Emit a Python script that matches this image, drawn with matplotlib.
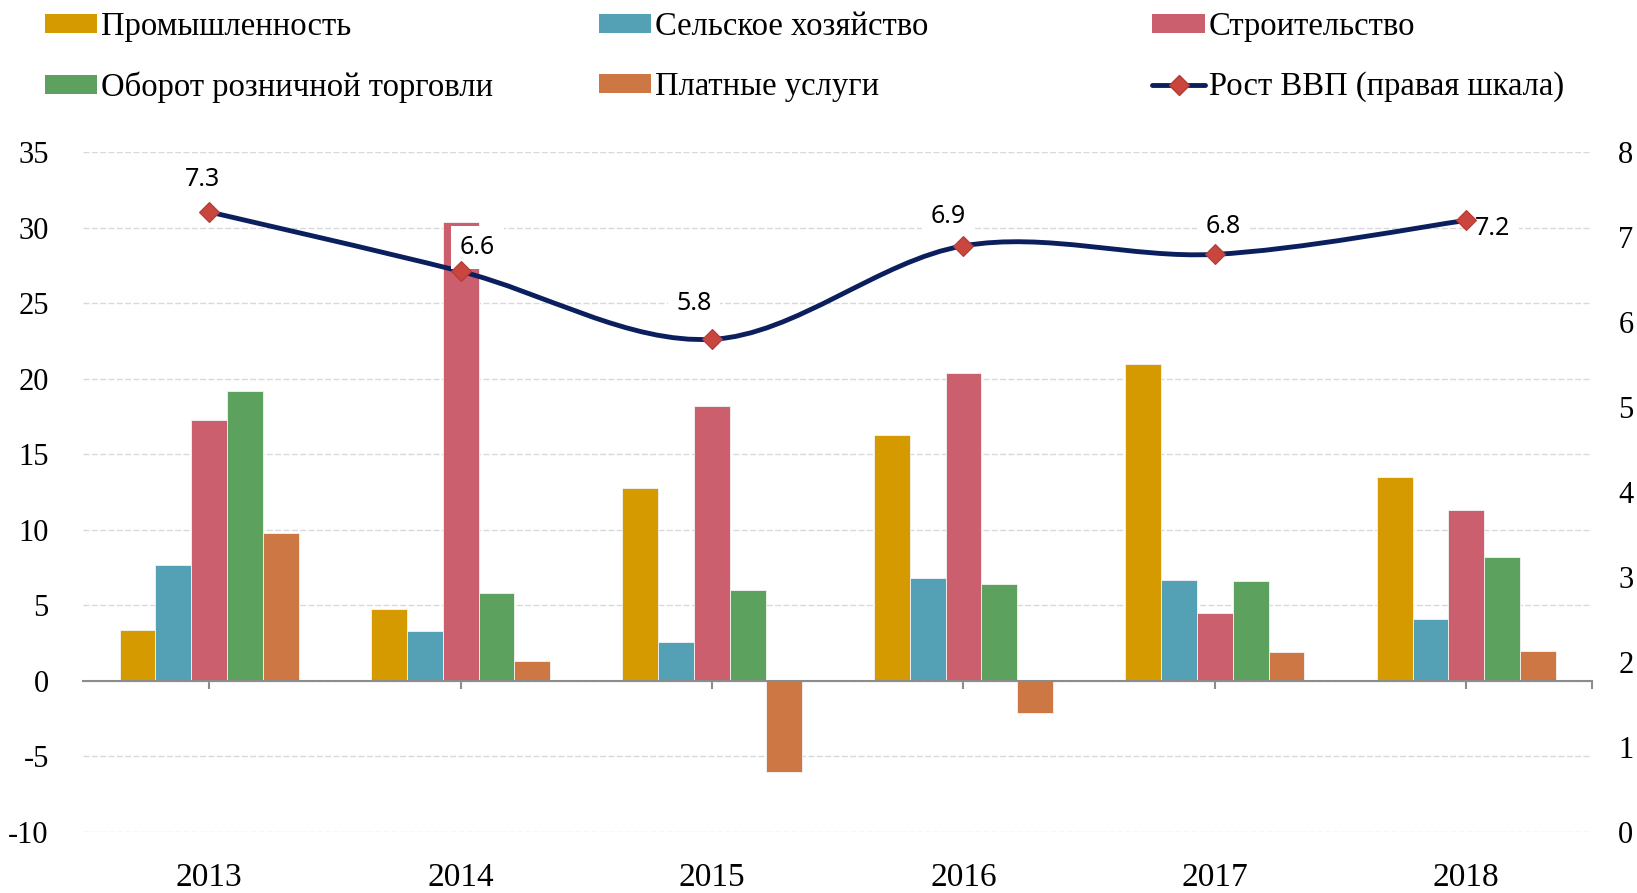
import numpy as np
import matplotlib
matplotlib.use("Agg")
import matplotlib.pyplot as plt
from matplotlib.path import Path
from matplotlib.patches import PathPatch, Patch
from matplotlib.lines import Line2D

years = ["2013", "2014", "2015", "2016", "2017", "2018"]
industry = [3.4, 4.8, 12.8, 16.3, 21.0, 13.5]
agriculture = [7.7, 3.3, 2.6, 6.8, 6.7, 4.1]
construction = [17.3, 30.4, 18.2, 20.4, 4.5, 11.3]
retail = [19.2, 5.8, 6.0, 6.4, 6.6, 8.2]
services = [9.8, 1.3, -6.0, -2.1, 1.9, 2.0]
gdp = [7.3, 6.6, 5.8, 6.9, 6.8, 7.2]

series_names = ["Промышленность", "Сельское хозяйство", "Строительство",
                "Оборот розничной торговли", "Платные услуги"]
gdp_name = "Рост ВВП (правая шкала)"
colors = ["#D49A00", "#54A0B5", "#CC5F6E", "#5DA15E", "#CC7744"]
line_color = "#0B1F5E"
marker_color = "#C9463F"

serif = ["Liberation Serif", "DejaVu Serif"]
sans = ["Noto Sans", "DejaVu Sans"]
plt.rcParams["axes.unicode_minus"] = False

fig = plt.figure(figsize=(16.37, 8.93), dpi=100)
ax = fig.add_axes([0.051, 0.0683, 0.9215, 0.761])
ax2 = ax.twinx()

x = np.arange(len(years))
w = 0.1425
for k, (vals, c) in enumerate(zip([industry, agriculture, construction, retail, services], colors)):
    ax.bar(x + (k - 2) * w, vals, width=w, color=c, edgecolor="#F4F4F4", linewidth=0.6, zorder=3)

ax.set_xlim(-0.5, 5.5)
ax.set_ylim(-10, 35)
ax.set_yticks(range(-10, 36, 5))
ax.yaxis.grid(True, color="#D9D9D9", linestyle=(0, (4.3, 1.7)), linewidth=1.0, zorder=0)
for s in ["top", "left", "right"]:
    ax.spines[s].set_visible(False)
ax.spines["bottom"].set_position(("data", 0))
ax.spines["bottom"].set_color("#8C8C8C")
ax.spines["bottom"].set_linewidth(1.5)
ax.spines["bottom"].set_zorder(4)
ax.set_xticks(list(x) + [5.5])
ax.set_xticklabels([])
ax.tick_params(axis="x", length=6, width=1.5, color="#8C8C8C", direction="out")
ax.tick_params(axis="y", length=0, pad=25)
for lab in ax.get_yticklabels():
    lab.set_family(serif)
    lab.set_fontsize(22)

for i, yr in enumerate(years):
    ax.annotate(yr, xy=(i, 0), xycoords=("data", "axes fraction"), xytext=(0, -33),
                textcoords="offset points", ha="center", va="center",
                family=serif, fontsize=24)

# right axis: GDP growth, smoothed line
ax2.set_ylim(0, 8)
ax2.set_yticks(range(0, 9))
ax2.tick_params(axis="y", length=0, pad=19)
for lab in ax2.get_yticklabels():
    lab.set_family(serif)
    lab.set_fontsize(22)
for s in ax2.spines.values():
    s.set_visible(False)

pts = np.column_stack([x, gdp]).astype(float)
n = len(pts)
verts = [pts[0]]
codes = [Path.MOVETO]
for i in range(n - 1):
    p0 = pts[i - 1] if i > 0 else pts[i]
    p3 = pts[i + 2] if i + 2 < n else pts[i + 1]
    verts += [pts[i] + (pts[i + 1] - p0) / 6, pts[i + 1] - (p3 - pts[i]) / 6, pts[i + 1]]
    codes += [Path.CURVE4] * 3
ax2.add_patch(PathPatch(Path(verts, codes), facecolor="none", edgecolor=line_color,
                        linewidth=3.5, capstyle="round", zorder=5))
ax2.plot(x, gdp, linestyle="none", marker="D", markersize=10, color=marker_color,
         markeredgecolor="#B23B36", markeredgewidth=0.8, zorder=8)

label_offsets = [(-5, 23), (12, 17), (-13, 26), (-11, 21), (6, 20), (19, -6)]
for i, (v, off) in enumerate(zip(gdp, label_offsets)):
    ax2.annotate(f"{v:.1f}", xy=(i, v), xytext=off, textcoords="offset points",
                 ha="center", va="center", family=sans, fontsize=18, zorder=7,
                 bbox=dict(boxstyle="square,pad=0.35", facecolor="white", edgecolor="none"))

# legend in three columns
handles = [Patch(facecolor=c, edgecolor="none") for c in colors]
gdp_handle = Line2D([], [], color=line_color, linewidth=3.5, solid_capstyle="round",
                    marker="D", markersize=10, markerfacecolor=marker_color,
                    markeredgecolor="#B23B36")
columns = [
    ([handles[0], handles[3]], [series_names[0], series_names[3]], 0.0274),
    ([handles[1], handles[4]], [series_names[1], series_names[4]], 0.366),
    ([handles[2], gdp_handle], [series_names[2], gdp_name], 0.704),
]
for hs, ls, xpos in columns:
    fig.legend(hs, ls, loc="upper left", bbox_to_anchor=(xpos, 0.987), frameon=False,
               prop={"family": serif, "size": 23.5}, handlelength=1.6, handleheight=0.5,
               handletextpad=0.12, labelspacing=0.9, borderpad=0, borderaxespad=0)

fig.savefig("out.png", dpi=100)
